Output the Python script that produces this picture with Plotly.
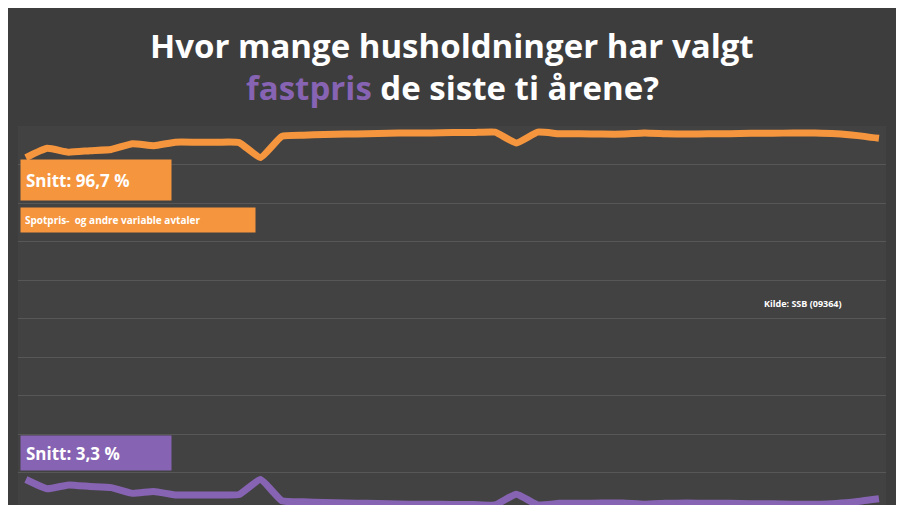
import plotly.graph_objects as go

# kvartaler, 10 år
perioder = list(range(41))
spotpris = [91.8, 94.2, 93.2, 93.6, 93.9, 95.4, 94.9, 95.8, 95.8, 95.8, 95.7, 91.8,
            97.3, 97.6, 97.8, 97.9, 98.0, 98.1, 98.2, 98.2, 98.3, 98.3, 98.4, 95.6,
            98.4, 98.0, 98.0, 97.9, 97.9, 98.2, 98.0, 97.9, 98.0, 98.0, 98.1, 98.1,
            98.2, 98.2, 98.0, 97.5, 96.8]
fastpris = [8.2, 5.8, 6.8, 6.4, 6.1, 4.6, 5.1, 4.2, 4.2, 4.2, 4.3, 8.2,
            2.7, 2.4, 2.2, 2.1, 2.0, 1.9, 1.8, 1.8, 1.7, 1.7, 1.6, 4.4,
            1.6, 2.0, 2.0, 2.1, 2.1, 1.8, 2.0, 2.1, 2.0, 2.0, 1.9, 1.9,
            1.8, 1.8, 2.0, 2.5, 3.2]

ORANGE = "#f5963f"
LILLA = "#8763b3"
FONT = "Open Sans"

fig = go.Figure()
fig.add_trace(go.Scatter(x=perioder, y=spotpris, mode="lines",
                         line=dict(color=ORANGE, width=7, shape="spline", smoothing=0.4),
                         name="Spotpris"))
fig.add_trace(go.Scatter(x=perioder, y=fastpris, mode="lines",
                         line=dict(color=LILLA, width=7, shape="spline", smoothing=0.4),
                         name="Fastpris"))

def px_y(y):  # piksel -> papir-koordinat (plottområde 118..505)
    return (505 - y) / 387

def px_x(x):
    return (x - 10) / 884

annot = [
    dict(x=0.5, y=px_y(37), text="<b>Hvor mange husholdninger har valgt</b>",
         font=dict(size=33, color="white")),
    dict(x=0.5, y=px_y(80),
         text=f"<b><span style='color:{LILLA}'>fastpris</span> de siste ti årene?</b>",
         font=dict(size=33, color="white")),
    dict(x=px_x(12), y=px_y(172), text="<b>Snitt: 96,7 %</b>", xanchor="left",
         bgcolor=ORANGE, width=140, height=30, borderpad=5, align="left",
         font=dict(size=17, color="white")),
    dict(x=px_x(12), y=px_y(212), text="<b>Spotpris-  og andre variable avtaler</b>",
         xanchor="left", bgcolor=ORANGE, width=226, height=16, borderpad=4,
         align="left", font=dict(size=10, color="white")),
    dict(x=px_x(768), y=px_y(295), text="<b>Kilde: SSB (09364)</b>", xanchor="left",
         font=dict(size=9, color="white")),
    dict(x=px_x(12), y=px_y(445), text="<b>Snitt: 3,3 %</b>", xanchor="left",
         bgcolor=LILLA, width=140, height=24, borderpad=5, align="left",
         font=dict(size=17, color="white")),
]
for a in annot:
    a.setdefault("xanchor", "center")
    fig.add_annotation(xref="paper", yref="paper", showarrow=False, yanchor="middle", **a)

fig.update_layout(
    autosize=True,
    margin=dict(l=10, r=10, t=118, b=0),
    paper_bgcolor="#3d3d3d", plot_bgcolor="#424242",
    font=dict(family=FONT, color="white"),
    showlegend=False,
    xaxis=dict(range=[-0.37, 40.33], visible=False),
    yaxis=dict(range=[-0.5, 100], dtick=10, showticklabels=False,
               gridcolor="#575757", gridwidth=1, zeroline=False),
)
fig.write_html("out.html", default_width="100%", default_height="100vh")
